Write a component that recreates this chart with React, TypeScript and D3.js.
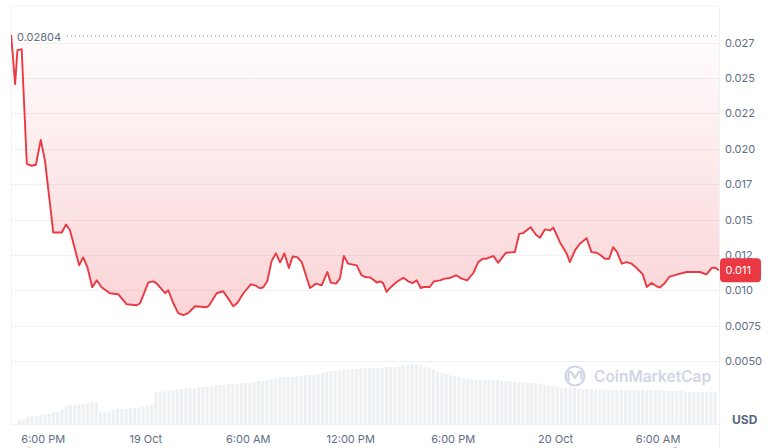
import React from "react";
import * as d3 from "d3";

// ---- data ----
const baseTime = new Date(2023, 9, 18, 16, 0, 0);
const domainStart = new Date(2023, 9, 18, 16, 6, 30);
const domainEnd = new Date(2023, 9, 20, 9, 34, 0);

const priceMinutes = [
  7, 21, 29, 44, 62, 79, 94, 111, 126, 155,
  185, 200, 214, 246, 260, 275, 292, 308, 325, 354,
  383, 413, 448, 460, 489, 506, 518, 548, 559, 577,
  594, 612, 629, 653, 694, 703, 729, 752, 776, 787,
  801, 823, 849, 864, 881, 893, 907, 922, 937, 952,
  967, 983, 996, 1012, 1028, 1057, 1078, 1098, 1118, 1130,
  1148, 1162, 1176, 1191, 1221, 1238, 1250, 1270, 1293, 1303,
  1314, 1326, 1338, 1361, 1385, 1402, 1418, 1432, 1446, 1457,
  1478, 1492, 1514, 1531, 1549, 1570, 1590, 1609, 1631, 1648,
  1664, 1678, 1701, 1718, 1745, 1777, 1792, 1806, 1832, 1851,
  1865, 1882, 1900, 1912, 1935, 1959, 1970, 1988, 2005, 2029,
  2046, 2064, 2076, 2093, 2108, 2122, 2136, 2152, 2169, 2187,
  2205, 2226, 2240, 2257, 2275, 2286, 2304, 2319, 2345, 2380,
  2427, 2450, 2468, 2480, 2494,
];

const prices = [
  0.02804, 0.02456, 0.02697, 0.02704, 0.01894, 0.0188, 0.01887, 0.02063, 0.01915, 0.01408,
  0.01408, 0.01465, 0.01423, 0.01176, 0.01232, 0.01162, 0.01021, 0.0107, 0.01021, 0.00979,
  0.00972, 0.00901, 0.00894, 0.00908, 0.01056, 0.01063, 0.01049, 0.00979, 0.01, 0.00908,
  0.00838, 0.00824, 0.00838, 0.00887, 0.0088, 0.00894, 0.00979, 0.00993, 0.00923, 0.00887,
  0.00908, 0.00979, 0.01042, 0.01035, 0.01014, 0.01021, 0.01065, 0.01206, 0.01261, 0.01197,
  0.01261, 0.01157, 0.01239, 0.01234, 0.01199, 0.01016, 0.01047, 0.01035, 0.01129, 0.01054,
  0.01047, 0.01082, 0.01242, 0.01188, 0.01176, 0.01106, 0.01094, 0.01089, 0.01054, 0.01063,
  0.01051, 0.00988, 0.01016, 0.01058, 0.01089, 0.01063, 0.01051, 0.0107, 0.01016, 0.01023,
  0.01023, 0.01063, 0.0107, 0.01082, 0.01087, 0.01106, 0.01082, 0.0107, 0.01122, 0.01199,
  0.01223, 0.01223, 0.01243, 0.01194, 0.01265, 0.0127, 0.01399, 0.01404, 0.01446, 0.01392,
  0.01371, 0.0143, 0.01423, 0.01442, 0.0134, 0.01258, 0.01199, 0.01282, 0.01329, 0.01368,
  0.0127, 0.01265, 0.01251, 0.01223, 0.01223, 0.01305, 0.0127, 0.01188, 0.01199, 0.01188,
  0.01157, 0.01113, 0.01023, 0.01051, 0.01028, 0.01019, 0.01051, 0.01094, 0.01111, 0.01129,
  0.01129, 0.01113, 0.01157, 0.0116, 0.01141,
];

const volumeStart = new Date(2023, 9, 18, 16, 30, 0);
const volumeStepMinutes = 15;
const volumes = [
  4, 5, 7, 8, 8, 9, 10, 10, 12, 12,
  14, 18, 19, 19, 20, 20, 21, 22, 22, 12,
  12, 13, 14, 15, 15, 15, 16, 16, 16, 17,
  18, 19, 32, 32, 33, 33, 34, 35, 35, 36,
  36, 36, 37, 37, 37, 38, 39, 39, 39, 40,
  40, 40, 41, 41, 41, 42, 43, 43, 44, 45,
  46, 47, 47, 47, 47, 48, 48, 49, 49, 49,
  50, 51, 52, 53, 53, 54, 54, 55, 55, 55,
  56, 56, 56, 56, 56, 56, 57, 57, 57, 58,
  59, 59, 60, 60, 59, 57, 56, 54, 52, 51,
  50, 49, 48, 47, 46, 45, 44, 44, 44, 44,
  44, 44, 44, 43, 43, 43, 42, 42, 42, 41,
  41, 41, 40, 39, 38, 38, 37, 36, 36, 36,
  36, 35, 35, 35, 35, 35, 35, 34, 34, 34,
  34, 34, 34, 34, 34, 34, 34, 34, 34, 34,
  34, 33, 33, 33, 33, 33, 32, 32, 32, 32,
  32, 32, 32, 32,
];
const volumeMax = 61;

const yTickValues = [0.005, 0.0075, 0.01, 0.0125, 0.015, 0.0175, 0.02, 0.0225, 0.025, 0.0275];
const yTickLabels = ["0.0050", "0.0075", "0.010", "0.012", "0.015", "0.017", "0.020", "0.022", "0.025", "0.027"];

const highValue = 0.02804;
const highLabel = "0.02804";
const lastLabel = "0.011";
const currencyLabel = "USD";

const eventTimes = [new Date(2023, 9, 18, 17, 10), new Date(2023, 9, 20, 7, 0)];
const eventColors = ["#f7931a", "#3861fb"];

// ---- layout ----
const W = 774;
const H = 448;
const left = 11;
const right = 719;
const top = 6;
const bottom = 424;

const RED = "#ea3943";
const GRID = "#eff2f5";
const TEXT = "#616e85";
const FONT = "Inter, 'Noto Sans', sans-serif";

export default function App() {
  const points = priceMinutes.map((m, i) => ({
    t: d3.timeMinute.offset(baseTime, m),
    v: prices[i],
  }));
  const x = d3.scaleTime().domain([domainStart, domainEnd]).range([left, right]);
  const y = d3.scaleLinear().domain([0.005, 0.0275]).range([361, 42.7]);
  const yv = d3.scaleLinear().domain([0, volumeMax]).range([bottom, bottom - 61]);

  const line = d3
    .line<{ t: Date; v: number }>()
    .x((d) => x(d.t))
    .y((d) => y(d.v))
    .curve(d3.curveLinear);
  const area = d3
    .area<{ t: Date; v: number }>()
    .x((d) => x(d.t))
    .y0(y(highValue))
    .y1((d) => y(d.v))
    .curve(d3.curveLinear);

  const xTicks = x.ticks(d3.timeHour.every(6) as any);
  const fmtTime = d3.timeFormat("%-I:%M %p");
  const fmtDay = d3.timeFormat("%-d %b");
  const xLabel = (d: Date) => (d.getHours() === 0 ? fmtDay(d) : fmtTime(d));

  const bars = volumes.map((v, i) => ({
    t: d3.timeMinute.offset(volumeStart, i * volumeStepMinutes),
    v,
  }));

  const last = points[points.length - 1];
  const lastY = y(last.v);

  return (
    <div style={{ position: "absolute", left: 0, top: 0, width: W, height: H, background: "#fff" }}>
      <svg width={W} height={H} style={{ display: "block", fontFamily: FONT }}>
        <defs>
          <linearGradient id="fillGrad" gradientUnits="userSpaceOnUse" x1="0" y1={y(highValue)} x2="0" y2="320">
            <stop offset="0" stopColor={RED} stopOpacity={0.015} />
            <stop offset="1" stopColor={RED} stopOpacity={0.22} />
          </linearGradient>
          <clipPath id="plotClip">
            <rect x={left} y={top} width={right - left} height={bottom - top} />
          </clipPath>
        </defs>

        {/* frame */}
        <line x1={left} x2={right} y1={top} y2={top} stroke={GRID} />
        <line x1={left + 0.5} x2={left + 0.5} y1={top} y2={bottom} stroke={GRID} />
        <line x1={right + 0.5} x2={right + 0.5} y1={top} y2={H} stroke={GRID} />
        <line x1={left} x2={right} y1={bottom + 0.5} y2={bottom + 0.5} stroke={GRID} />

        {/* grid */}
        {yTickValues.map((v) => (
          <line key={v} x1={left} x2={right} y1={Math.round(y(v)) + 0.5} y2={Math.round(y(v)) + 0.5} stroke={GRID} />
        ))}

        {/* volume */}
        <g clipPath="url(#plotClip)">
          {bars.map((b, i) => (
            <rect key={i} x={x(b.t)} y={yv(b.v)} width={3.2} height={bottom - yv(b.v)} fill="#eef1f4" />
          ))}
        </g>

        {/* watermark */}
        <g opacity={1}>
          <circle cx={575} cy={376} r={9.5} fill="none" stroke="#cfd6e4" strokeWidth={2.2} />
          <path
            d="M568.5,381 L568.5,374 Q569,370 572,373 L575,378 L578,373 Q581,370 581.5,374 L581.5,379"
            fill="none"
            stroke="#cfd6e4"
            strokeWidth={2.2}
            strokeLinecap="round"
            strokeLinejoin="round"
          />
          <text x={594} y={382} fontSize={15.5} fontWeight={600} fill="#cfd6e4">
            CoinMarketCap
          </text>
        </g>

        {/* price area + line */}
        <g clipPath="url(#plotClip)">
          <path d={area(points) || ""} fill="url(#fillGrad)" />
          <path d={line(points) || ""} fill="none" stroke={RED} strokeWidth={1.9} strokeLinejoin="round" />
        </g>

        {/* high dotted line */}
        <line
          x1={67}
          x2={right}
          y1={y(highValue) + 1}
          y2={y(highValue) + 1}
          stroke="#808a9d"
          strokeWidth={1}
          strokeDasharray="1 3"
        />
        <text x={17} y={y(highValue) + 6} fontSize={11} fill={TEXT}>
          {highLabel}
        </text>

        {/* y axis labels */}
        {yTickValues.map((v, i) => (
          <text key={v} x={725} y={y(v) + 4} fontSize={11} fill={TEXT}>
            {yTickLabels[i]}
          </text>
        ))}

        {/* last price badge */}
        <rect x={720} y={lastY - 12} width={41} height={24} rx={4} fill={RED} />
        <text x={725.5} y={lastY + 4} fontSize={11} fill="#fff">
          {lastLabel}
        </text>

        {/* currency */}
        <text x={732} y={424} fontSize={12} fontWeight={700} fill="#58667e">
          {currencyLabel}
        </text>

        {/* x axis labels */}
        {xTicks.map((d) => (
          <text key={+d} x={x(d)} y={443} fontSize={11} fill={TEXT} textAnchor="middle">
            {xLabel(d)}
          </text>
        ))}

        {/* event markers */}
        {eventTimes.map((t, i) => (
          <circle key={i} cx={x(t)} cy={451} r={3.5} fill={eventColors[i]} />
        ))}
      </svg>
    </div>
  );
}
